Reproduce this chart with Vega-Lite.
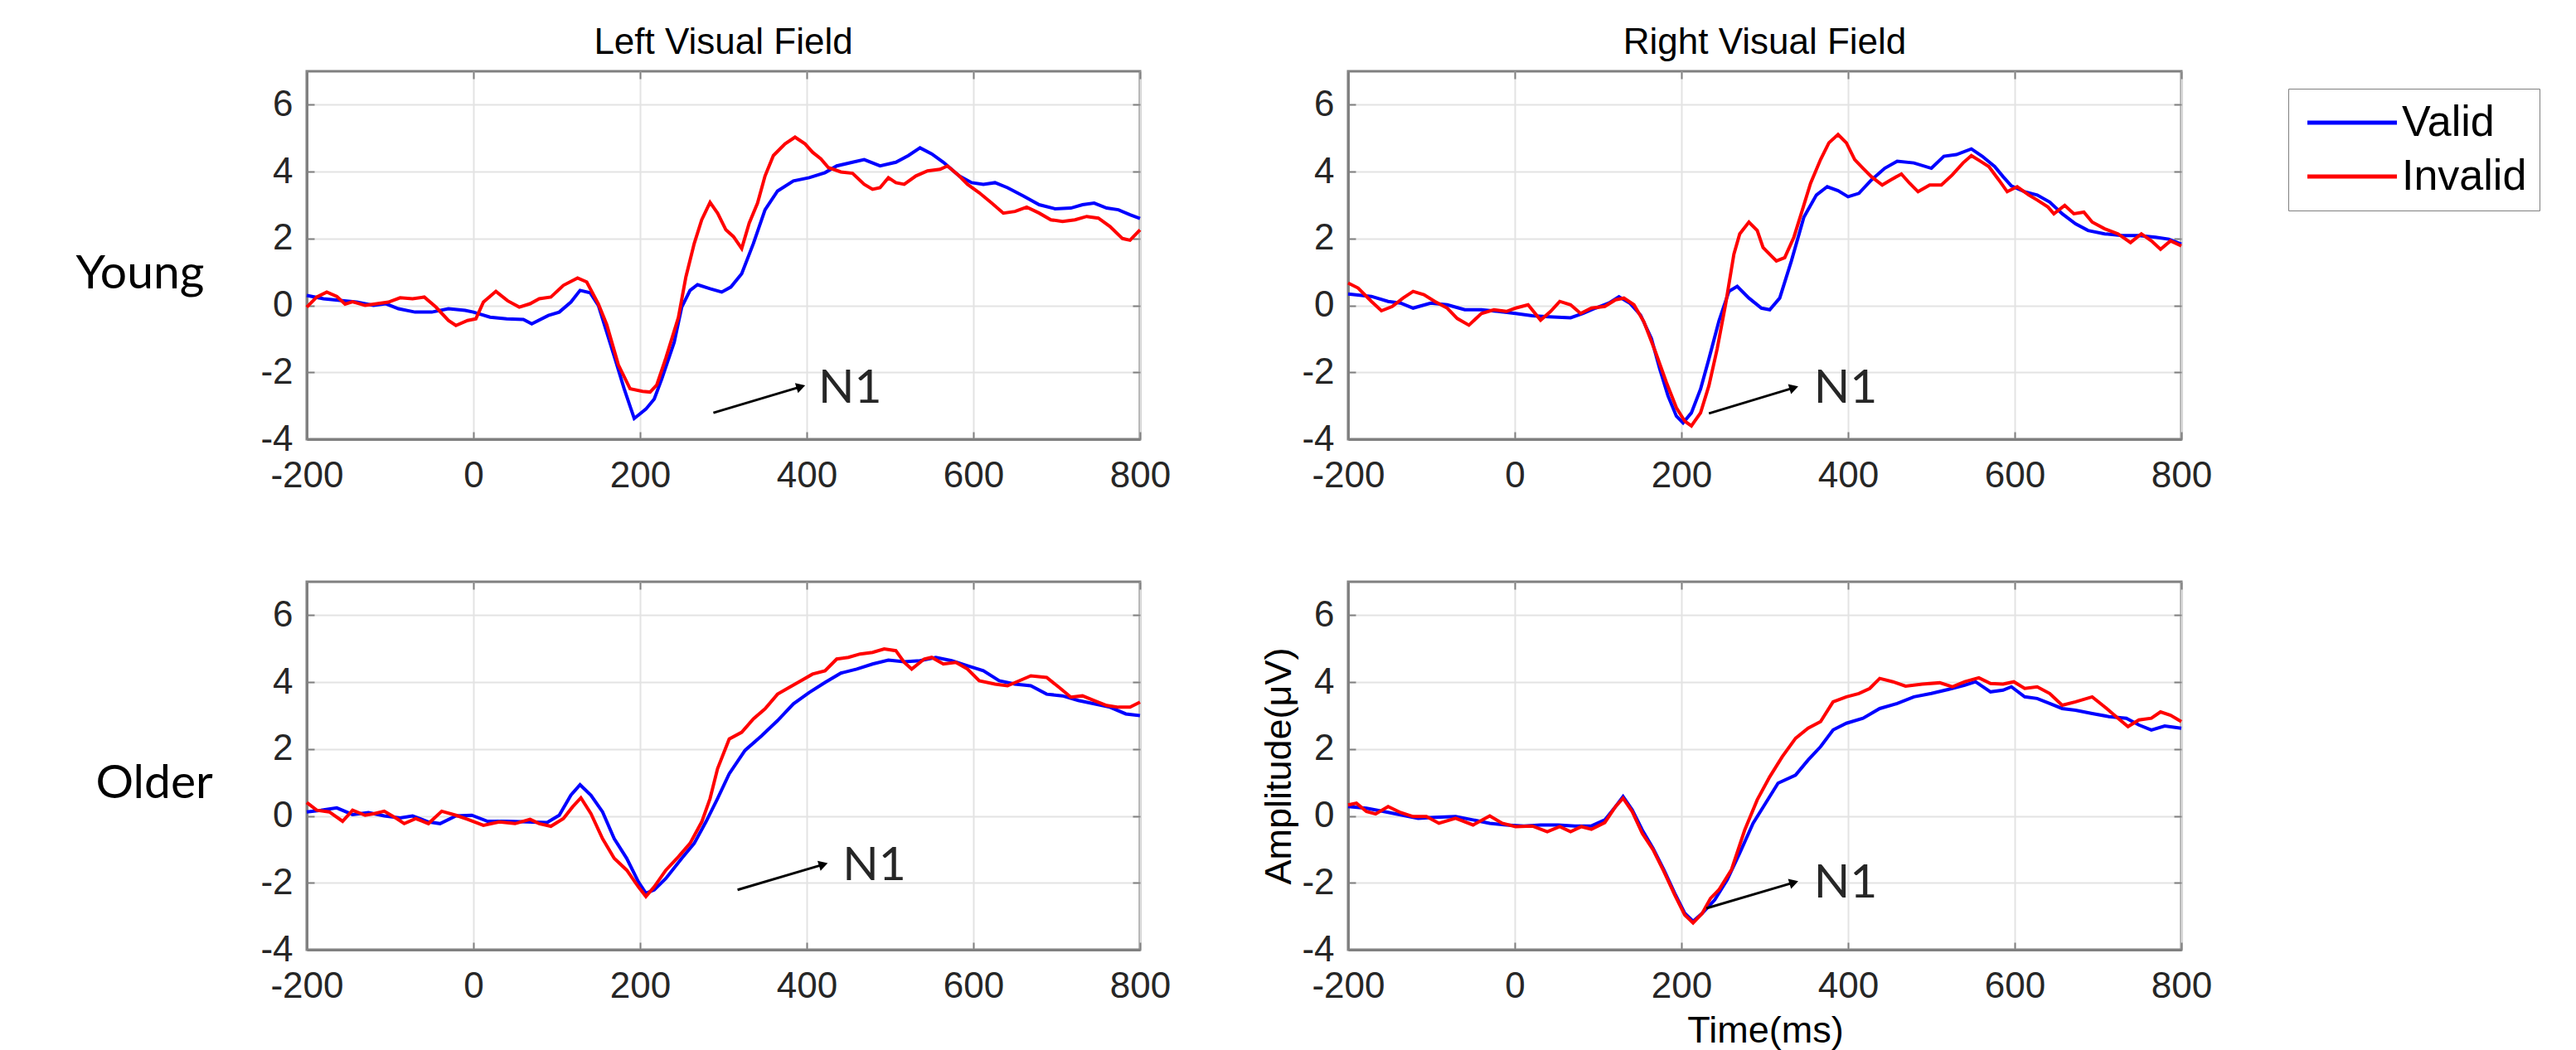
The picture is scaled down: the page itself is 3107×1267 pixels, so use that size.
{
"$schema":"https://vega.github.io/schema/vega-lite/v6.json",
"autosize":{"type":"none"},
"padding":{"left":370,"top":86,"right":2737,"bottom":1181},
"background":"#ffffff",
"config":{
 "font":"Liberation Sans",
 "view":{"stroke":"#808080","strokeWidth":3},
 "axis":{"labelFont":"Liberation Sans","labelFontSize":44,"labelColor":"#262626","labelFlush":false,"labelOverlap":false,"domainColor":"#808080","domainWidth":3,"tickColor":"#808080","tickWidth":2,"tickSize":-9,"gridColor":"#e3e3e3","gridWidth":2,"titleFont":"Liberation Sans","titleFontWeight":"normal","titleColor":"#000000","titleFontSize":45},
 "axisX":{"labelPadding":31},
 "axisY":{"labelPadding":26},
 "title":{"font":"Liberation Sans","fontSize":44,"fontWeight":"normal","color":"#000000"}
},
"datasets":{
"ann":[
 {"p":"YL","t":288,"v":-3.21,"t2":393,"v2":-2.43,"tx":414,"vy":-2.49,"label":"N1"},
 {"p":"YR","t":233,"v":-3.23,"t2":335,"v2":-2.46,"tx":359,"vy":-2.5,"label":"N1"},
 {"p":"OL","t":317,"v":-2.21,"t2":420,"v2":-1.45,"tx":443,"vy":-1.49,"label":"N1"},
 {"p":"OR","t":230,"v":-2.76,"t2":335,"v2":-1.99,"tx":359,"vy":-2.03,"label":"N1"}
],
"erp":[
{"p":"YL","c":"Valid","t":-200,"v":0.3},{"p":"YL","c":"Valid","t":-180,"v":0.2},{"p":"YL","c":"Valid","t":-160,"v":0.15},{"p":"YL","c":"Valid","t":-140,"v":0.1},{"p":"YL","c":"Valid","t":-120,"v":0.0},{"p":"YL","c":"Valid","t":-105,"v":0.05},{"p":"YL","c":"Valid","t":-90,"v":-0.1},{"p":"YL","c":"Valid","t":-70,"v":-0.2},{"p":"YL","c":"Valid","t":-50,"v":-0.2},{"p":"YL","c":"Valid","t":-30,"v":-0.1},{"p":"YL","c":"Valid","t":-10,"v":-0.15},{"p":"YL","c":"Valid","t":0,"v":-0.2},{"p":"YL","c":"Valid","t":20,"v":-0.35},{"p":"YL","c":"Valid","t":40,"v":-0.4},{"p":"YL","c":"Valid","t":60,"v":-0.42},{"p":"YL","c":"Valid","t":70,"v":-0.55},{"p":"YL","c":"Valid","t":90,"v":-0.3},{"p":"YL","c":"Valid","t":103,"v":-0.2},{"p":"YL","c":"Valid","t":117,"v":0.1},{"p":"YL","c":"Valid","t":128,"v":0.45},{"p":"YL","c":"Valid","t":140,"v":0.38},{"p":"YL","c":"Valid","t":150,"v":0.0},{"p":"YL","c":"Valid","t":160,"v":-0.8},{"p":"YL","c":"Valid","t":170,"v":-1.6},{"p":"YL","c":"Valid","t":181,"v":-2.5},{"p":"YL","c":"Valid","t":193,"v":-3.38},{"p":"YL","c":"Valid","t":207,"v":-3.1},{"p":"YL","c":"Valid","t":217,"v":-2.8},{"p":"YL","c":"Valid","t":226,"v":-2.2},{"p":"YL","c":"Valid","t":241,"v":-1.1},{"p":"YL","c":"Valid","t":250,"v":-0.05},{"p":"YL","c":"Valid","t":260,"v":0.45},{"p":"YL","c":"Valid","t":269,"v":0.62},{"p":"YL","c":"Valid","t":284,"v":0.5},{"p":"YL","c":"Valid","t":298,"v":0.4},{"p":"YL","c":"Valid","t":309,"v":0.55},{"p":"YL","c":"Valid","t":322,"v":0.95},{"p":"YL","c":"Valid","t":336,"v":1.85},{"p":"YL","c":"Valid","t":350,"v":2.86},{"p":"YL","c":"Valid","t":365,"v":3.42},{"p":"YL","c":"Valid","t":384,"v":3.72},{"p":"YL","c":"Valid","t":403,"v":3.82},{"p":"YL","c":"Valid","t":422,"v":3.97},{"p":"YL","c":"Valid","t":436,"v":4.17},{"p":"YL","c":"Valid","t":455,"v":4.28},{"p":"YL","c":"Valid","t":469,"v":4.36},{"p":"YL","c":"Valid","t":488,"v":4.17},{"p":"YL","c":"Valid","t":507,"v":4.28},{"p":"YL","c":"Valid","t":522,"v":4.48},{"p":"YL","c":"Valid","t":536,"v":4.71},{"p":"YL","c":"Valid","t":550,"v":4.53},{"p":"YL","c":"Valid","t":564,"v":4.28},{"p":"YL","c":"Valid","t":583,"v":3.87},{"p":"YL","c":"Valid","t":598,"v":3.67},{"p":"YL","c":"Valid","t":612,"v":3.62},{"p":"YL","c":"Valid","t":626,"v":3.67},{"p":"YL","c":"Valid","t":641,"v":3.52},{"p":"YL","c":"Valid","t":660,"v":3.27},{"p":"YL","c":"Valid","t":679,"v":3.01},{"p":"YL","c":"Valid","t":698,"v":2.89},{"p":"YL","c":"Valid","t":717,"v":2.91},{"p":"YL","c":"Valid","t":731,"v":3.01},{"p":"YL","c":"Valid","t":745,"v":3.06},{"p":"YL","c":"Valid","t":760,"v":2.91},{"p":"YL","c":"Valid","t":774,"v":2.86},{"p":"YL","c":"Valid","t":788,"v":2.71},{"p":"YL","c":"Valid","t":800,"v":2.6},
{"p":"YL","c":"Invalid","t":-200,"v":-0.05},{"p":"YL","c":"Invalid","t":-188,"v":0.25},{"p":"YL","c":"Invalid","t":-176,"v":0.4},{"p":"YL","c":"Invalid","t":-164,"v":0.27},{"p":"YL","c":"Invalid","t":-154,"v":0.04},{"p":"YL","c":"Invalid","t":-145,"v":0.11},{"p":"YL","c":"Invalid","t":-130,"v":0.0},{"p":"YL","c":"Invalid","t":-116,"v":0.05},{"p":"YL","c":"Invalid","t":-102,"v":0.1},{"p":"YL","c":"Invalid","t":-88,"v":0.23},{"p":"YL","c":"Invalid","t":-73,"v":0.2},{"p":"YL","c":"Invalid","t":-59,"v":0.25},{"p":"YL","c":"Invalid","t":-45,"v":-0.05},{"p":"YL","c":"Invalid","t":-30,"v":-0.45},{"p":"YL","c":"Invalid","t":-21,"v":-0.6},{"p":"YL","c":"Invalid","t":-7,"v":-0.45},{"p":"YL","c":"Invalid","t":3,"v":-0.4},{"p":"YL","c":"Invalid","t":12,"v":0.1},{"p":"YL","c":"Invalid","t":27,"v":0.42},{"p":"YL","c":"Invalid","t":41,"v":0.14},{"p":"YL","c":"Invalid","t":55,"v":-0.05},{"p":"YL","c":"Invalid","t":68,"v":0.05},{"p":"YL","c":"Invalid","t":79,"v":0.2},{"p":"YL","c":"Invalid","t":93,"v":0.25},{"p":"YL","c":"Invalid","t":108,"v":0.6},{"p":"YL","c":"Invalid","t":125,"v":0.82},{"p":"YL","c":"Invalid","t":136,"v":0.7},{"p":"YL","c":"Invalid","t":150,"v":0.04},{"p":"YL","c":"Invalid","t":160,"v":-0.57},{"p":"YL","c":"Invalid","t":174,"v":-1.78},{"p":"YL","c":"Invalid","t":188,"v":-2.49},{"p":"YL","c":"Invalid","t":203,"v":-2.57},{"p":"YL","c":"Invalid","t":212,"v":-2.59},{"p":"YL","c":"Invalid","t":220,"v":-2.38},{"p":"YL","c":"Invalid","t":231,"v":-1.57},{"p":"YL","c":"Invalid","t":246,"v":-0.36},{"p":"YL","c":"Invalid","t":255,"v":0.85},{"p":"YL","c":"Invalid","t":265,"v":1.85},{"p":"YL","c":"Invalid","t":274,"v":2.56},{"p":"YL","c":"Invalid","t":284,"v":3.08},{"p":"YL","c":"Invalid","t":293,"v":2.76},{"p":"YL","c":"Invalid","t":303,"v":2.26},{"p":"YL","c":"Invalid","t":312,"v":2.06},{"p":"YL","c":"Invalid","t":322,"v":1.7},{"p":"YL","c":"Invalid","t":331,"v":2.46},{"p":"YL","c":"Invalid","t":341,"v":3.06},{"p":"YL","c":"Invalid","t":350,"v":3.87},{"p":"YL","c":"Invalid","t":360,"v":4.48},{"p":"YL","c":"Invalid","t":374,"v":4.83},{"p":"YL","c":"Invalid","t":386,"v":5.03},{"p":"YL","c":"Invalid","t":398,"v":4.83},{"p":"YL","c":"Invalid","t":407,"v":4.58},{"p":"YL","c":"Invalid","t":417,"v":4.38},{"p":"YL","c":"Invalid","t":426,"v":4.12},{"p":"YL","c":"Invalid","t":441,"v":3.99},{"p":"YL","c":"Invalid","t":455,"v":3.95},{"p":"YL","c":"Invalid","t":469,"v":3.62},{"p":"YL","c":"Invalid","t":479,"v":3.47},{"p":"YL","c":"Invalid","t":488,"v":3.52},{"p":"YL","c":"Invalid","t":498,"v":3.82},{"p":"YL","c":"Invalid","t":507,"v":3.67},{"p":"YL","c":"Invalid","t":517,"v":3.62},{"p":"YL","c":"Invalid","t":531,"v":3.87},{"p":"YL","c":"Invalid","t":545,"v":4.02},{"p":"YL","c":"Invalid","t":560,"v":4.07},{"p":"YL","c":"Invalid","t":569,"v":4.17},{"p":"YL","c":"Invalid","t":583,"v":3.87},{"p":"YL","c":"Invalid","t":593,"v":3.62},{"p":"YL","c":"Invalid","t":607,"v":3.37},{"p":"YL","c":"Invalid","t":622,"v":3.06},{"p":"YL","c":"Invalid","t":636,"v":2.76},{"p":"YL","c":"Invalid","t":650,"v":2.81},{"p":"YL","c":"Invalid","t":664,"v":2.94},{"p":"YL","c":"Invalid","t":679,"v":2.76},{"p":"YL","c":"Invalid","t":693,"v":2.56},{"p":"YL","c":"Invalid","t":707,"v":2.51},{"p":"YL","c":"Invalid","t":722,"v":2.56},{"p":"YL","c":"Invalid","t":736,"v":2.66},{"p":"YL","c":"Invalid","t":750,"v":2.61},{"p":"YL","c":"Invalid","t":764,"v":2.36},{"p":"YL","c":"Invalid","t":779,"v":2.0},{"p":"YL","c":"Invalid","t":788,"v":1.95},{"p":"YL","c":"Invalid","t":800,"v":2.26},
{"p":"YR","c":"Valid","t":-200,"v":0.34},{"p":"YR","c":"Valid","t":-172,"v":0.27},{"p":"YR","c":"Valid","t":-152,"v":0.12},{"p":"YR","c":"Valid","t":-137,"v":0.07},{"p":"YR","c":"Valid","t":-122,"v":-0.08},{"p":"YR","c":"Valid","t":-101,"v":0.07},{"p":"YR","c":"Valid","t":-81,"v":0.02},{"p":"YR","c":"Valid","t":-60,"v":-0.13},{"p":"YR","c":"Valid","t":-40,"v":-0.13},{"p":"YR","c":"Valid","t":-20,"v":-0.18},{"p":"YR","c":"Valid","t":1,"v":-0.24},{"p":"YR","c":"Valid","t":21,"v":-0.31},{"p":"YR","c":"Valid","t":41,"v":-0.34},{"p":"YR","c":"Valid","t":67,"v":-0.37},{"p":"YR","c":"Valid","t":82,"v":-0.24},{"p":"YR","c":"Valid","t":97,"v":-0.08},{"p":"YR","c":"Valid","t":113,"v":0.07},{"p":"YR","c":"Valid","t":125,"v":0.26},{"p":"YR","c":"Valid","t":138,"v":0.07},{"p":"YR","c":"Valid","t":151,"v":-0.29},{"p":"YR","c":"Valid","t":164,"v":-0.99},{"p":"YR","c":"Valid","t":174,"v":-1.9},{"p":"YR","c":"Valid","t":184,"v":-2.71},{"p":"YR","c":"Valid","t":194,"v":-3.31},{"p":"YR","c":"Valid","t":202,"v":-3.51},{"p":"YR","c":"Valid","t":212,"v":-3.21},{"p":"YR","c":"Valid","t":223,"v":-2.5},{"p":"YR","c":"Valid","t":233,"v":-1.6},{"p":"YR","c":"Valid","t":245,"v":-0.47},{"p":"YR","c":"Valid","t":257,"v":0.42},{"p":"YR","c":"Valid","t":267,"v":0.57},{"p":"YR","c":"Valid","t":281,"v":0.22},{"p":"YR","c":"Valid","t":296,"v":-0.08},{"p":"YR","c":"Valid","t":306,"v":-0.13},{"p":"YR","c":"Valid","t":318,"v":0.22},{"p":"YR","c":"Valid","t":332,"v":1.33},{"p":"YR","c":"Valid","t":347,"v":2.64},{"p":"YR","c":"Valid","t":362,"v":3.3},{"p":"YR","c":"Valid","t":375,"v":3.55},{"p":"YR","c":"Valid","t":388,"v":3.43},{"p":"YR","c":"Valid","t":400,"v":3.25},{"p":"YR","c":"Valid","t":413,"v":3.35},{"p":"YR","c":"Valid","t":428,"v":3.75},{"p":"YR","c":"Valid","t":444,"v":4.1},{"p":"YR","c":"Valid","t":459,"v":4.31},{"p":"YR","c":"Valid","t":479,"v":4.26},{"p":"YR","c":"Valid","t":500,"v":4.1},{"p":"YR","c":"Valid","t":515,"v":4.46},{"p":"YR","c":"Valid","t":530,"v":4.51},{"p":"YR","c":"Valid","t":548,"v":4.68},{"p":"YR","c":"Valid","t":561,"v":4.46},{"p":"YR","c":"Valid","t":576,"v":4.15},{"p":"YR","c":"Valid","t":586,"v":3.85},{"p":"YR","c":"Valid","t":596,"v":3.57},{"p":"YR","c":"Valid","t":612,"v":3.4},{"p":"YR","c":"Valid","t":627,"v":3.3},{"p":"YR","c":"Valid","t":642,"v":3.09},{"p":"YR","c":"Valid","t":657,"v":2.74},{"p":"YR","c":"Valid","t":673,"v":2.44},{"p":"YR","c":"Valid","t":688,"v":2.24},{"p":"YR","c":"Valid","t":708,"v":2.14},{"p":"YR","c":"Valid","t":729,"v":2.09},{"p":"YR","c":"Valid","t":749,"v":2.09},{"p":"YR","c":"Valid","t":769,"v":2.04},{"p":"YR","c":"Valid","t":785,"v":1.98},{"p":"YR","c":"Valid","t":800,"v":1.83},
{"p":"YR","c":"Invalid","t":-200,"v":0.67},{"p":"YR","c":"Invalid","t":-188,"v":0.52},{"p":"YR","c":"Invalid","t":-172,"v":0.12},{"p":"YR","c":"Invalid","t":-160,"v":-0.16},{"p":"YR","c":"Invalid","t":-147,"v":-0.03},{"p":"YR","c":"Invalid","t":-134,"v":0.22},{"p":"YR","c":"Invalid","t":-122,"v":0.42},{"p":"YR","c":"Invalid","t":-109,"v":0.32},{"p":"YR","c":"Invalid","t":-96,"v":0.12},{"p":"YR","c":"Invalid","t":-81,"v":-0.08},{"p":"YR","c":"Invalid","t":-69,"v":-0.39},{"p":"YR","c":"Invalid","t":-55,"v":-0.59},{"p":"YR","c":"Invalid","t":-40,"v":-0.24},{"p":"YR","c":"Invalid","t":-25,"v":-0.13},{"p":"YR","c":"Invalid","t":-10,"v":-0.18},{"p":"YR","c":"Invalid","t":1,"v":-0.08},{"p":"YR","c":"Invalid","t":16,"v":0.02},{"p":"YR","c":"Invalid","t":31,"v":-0.44},{"p":"YR","c":"Invalid","t":43,"v":-0.18},{"p":"YR","c":"Invalid","t":54,"v":0.12},{"p":"YR","c":"Invalid","t":67,"v":0.02},{"p":"YR","c":"Invalid","t":79,"v":-0.24},{"p":"YR","c":"Invalid","t":92,"v":-0.08},{"p":"YR","c":"Invalid","t":108,"v":-0.03},{"p":"YR","c":"Invalid","t":121,"v":0.17},{"p":"YR","c":"Invalid","t":131,"v":0.22},{"p":"YR","c":"Invalid","t":143,"v":0.02},{"p":"YR","c":"Invalid","t":155,"v":-0.49},{"p":"YR","c":"Invalid","t":169,"v":-1.4},{"p":"YR","c":"Invalid","t":182,"v":-2.3},{"p":"YR","c":"Invalid","t":194,"v":-3.06},{"p":"YR","c":"Invalid","t":204,"v":-3.46},{"p":"YR","c":"Invalid","t":212,"v":-3.6},{"p":"YR","c":"Invalid","t":223,"v":-3.21},{"p":"YR","c":"Invalid","t":233,"v":-2.4},{"p":"YR","c":"Invalid","t":243,"v":-1.29},{"p":"YR","c":"Invalid","t":253,"v":0.03},{"p":"YR","c":"Invalid","t":263,"v":1.53},{"p":"YR","c":"Invalid","t":270,"v":2.14},{"p":"YR","c":"Invalid","t":281,"v":2.49},{"p":"YR","c":"Invalid","t":291,"v":2.24},{"p":"YR","c":"Invalid","t":298,"v":1.73},{"p":"YR","c":"Invalid","t":306,"v":1.53},{"p":"YR","c":"Invalid","t":314,"v":1.33},{"p":"YR","c":"Invalid","t":324,"v":1.43},{"p":"YR","c":"Invalid","t":335,"v":2.04},{"p":"YR","c":"Invalid","t":345,"v":2.84},{"p":"YR","c":"Invalid","t":355,"v":3.65},{"p":"YR","c":"Invalid","t":367,"v":4.36},{"p":"YR","c":"Invalid","t":377,"v":4.86},{"p":"YR","c":"Invalid","t":388,"v":5.11},{"p":"YR","c":"Invalid","t":398,"v":4.86},{"p":"YR","c":"Invalid","t":408,"v":4.36},{"p":"YR","c":"Invalid","t":418,"v":4.1},{"p":"YR","c":"Invalid","t":428,"v":3.85},{"p":"YR","c":"Invalid","t":441,"v":3.6},{"p":"YR","c":"Invalid","t":451,"v":3.75},{"p":"YR","c":"Invalid","t":464,"v":3.93},{"p":"YR","c":"Invalid","t":474,"v":3.65},{"p":"YR","c":"Invalid","t":484,"v":3.4},{"p":"YR","c":"Invalid","t":498,"v":3.6},{"p":"YR","c":"Invalid","t":512,"v":3.6},{"p":"YR","c":"Invalid","t":525,"v":3.9},{"p":"YR","c":"Invalid","t":538,"v":4.26},{"p":"YR","c":"Invalid","t":548,"v":4.48},{"p":"YR","c":"Invalid","t":559,"v":4.31},{"p":"YR","c":"Invalid","t":569,"v":4.15},{"p":"YR","c":"Invalid","t":581,"v":3.75},{"p":"YR","c":"Invalid","t":591,"v":3.4},{"p":"YR","c":"Invalid","t":603,"v":3.55},{"p":"YR","c":"Invalid","t":617,"v":3.3},{"p":"YR","c":"Invalid","t":627,"v":3.15},{"p":"YR","c":"Invalid","t":640,"v":2.94},{"p":"YR","c":"Invalid","t":647,"v":2.74},{"p":"YR","c":"Invalid","t":660,"v":2.99},{"p":"YR","c":"Invalid","t":671,"v":2.74},{"p":"YR","c":"Invalid","t":683,"v":2.79},{"p":"YR","c":"Invalid","t":693,"v":2.49},{"p":"YR","c":"Invalid","t":708,"v":2.29},{"p":"YR","c":"Invalid","t":724,"v":2.14},{"p":"YR","c":"Invalid","t":739,"v":1.88},{"p":"YR","c":"Invalid","t":752,"v":2.14},{"p":"YR","c":"Invalid","t":764,"v":1.93},{"p":"YR","c":"Invalid","t":775,"v":1.68},{"p":"YR","c":"Invalid","t":787,"v":1.93},{"p":"YR","c":"Invalid","t":800,"v":1.78},
{"p":"OL","c":"Valid","t":-200,"v":0.12},{"p":"OL","c":"Valid","t":-183,"v":0.17},{"p":"OL","c":"Valid","t":-164,"v":0.24},{"p":"OL","c":"Valid","t":-145,"v":0.04},{"p":"OL","c":"Valid","t":-126,"v":0.1},{"p":"OL","c":"Valid","t":-107,"v":0.0},{"p":"OL","c":"Valid","t":-88,"v":-0.06},{"p":"OL","c":"Valid","t":-73,"v":0.0},{"p":"OL","c":"Valid","t":-54,"v":-0.18},{"p":"OL","c":"Valid","t":-40,"v":-0.23},{"p":"OL","c":"Valid","t":-21,"v":0.0},{"p":"OL","c":"Valid","t":-2,"v":0.02},{"p":"OL","c":"Valid","t":17,"v":-0.16},{"p":"OL","c":"Valid","t":41,"v":-0.16},{"p":"OL","c":"Valid","t":65,"v":-0.18},{"p":"OL","c":"Valid","t":88,"v":-0.2},{"p":"OL","c":"Valid","t":103,"v":0.02},{"p":"OL","c":"Valid","t":117,"v":0.62},{"p":"OL","c":"Valid","t":128,"v":0.93},{"p":"OL","c":"Valid","t":141,"v":0.62},{"p":"OL","c":"Valid","t":155,"v":0.12},{"p":"OL","c":"Valid","t":169,"v":-0.68},{"p":"OL","c":"Valid","t":184,"v":-1.27},{"p":"OL","c":"Valid","t":198,"v":-1.97},{"p":"OL","c":"Valid","t":207,"v":-2.31},{"p":"OL","c":"Valid","t":217,"v":-2.21},{"p":"OL","c":"Valid","t":231,"v":-1.87},{"p":"OL","c":"Valid","t":250,"v":-1.27},{"p":"OL","c":"Valid","t":265,"v":-0.82},{"p":"OL","c":"Valid","t":279,"v":-0.18},{"p":"OL","c":"Valid","t":293,"v":0.52},{"p":"OL","c":"Valid","t":307,"v":1.26},{"p":"OL","c":"Valid","t":326,"v":1.96},{"p":"OL","c":"Valid","t":346,"v":2.4},{"p":"OL","c":"Valid","t":365,"v":2.85},{"p":"OL","c":"Valid","t":384,"v":3.35},{"p":"OL","c":"Valid","t":403,"v":3.69},{"p":"OL","c":"Valid","t":422,"v":3.99},{"p":"OL","c":"Valid","t":441,"v":4.27},{"p":"OL","c":"Valid","t":460,"v":4.39},{"p":"OL","c":"Valid","t":479,"v":4.54},{"p":"OL","c":"Valid","t":498,"v":4.66},{"p":"OL","c":"Valid","t":517,"v":4.61},{"p":"OL","c":"Valid","t":536,"v":4.64},{"p":"OL","c":"Valid","t":555,"v":4.74},{"p":"OL","c":"Valid","t":574,"v":4.64},{"p":"OL","c":"Valid","t":593,"v":4.49},{"p":"OL","c":"Valid","t":612,"v":4.34},{"p":"OL","c":"Valid","t":631,"v":4.04},{"p":"OL","c":"Valid","t":650,"v":3.94},{"p":"OL","c":"Valid","t":669,"v":3.89},{"p":"OL","c":"Valid","t":688,"v":3.64},{"p":"OL","c":"Valid","t":707,"v":3.59},{"p":"OL","c":"Valid","t":726,"v":3.45},{"p":"OL","c":"Valid","t":745,"v":3.35},{"p":"OL","c":"Valid","t":764,"v":3.25},{"p":"OL","c":"Valid","t":783,"v":3.05},{"p":"OL","c":"Valid","t":800,"v":3.0},
{"p":"OL","c":"Invalid","t":-200,"v":0.4},{"p":"OL","c":"Invalid","t":-188,"v":0.17},{"p":"OL","c":"Invalid","t":-173,"v":0.12},{"p":"OL","c":"Invalid","t":-157,"v":-0.16},{"p":"OL","c":"Invalid","t":-145,"v":0.17},{"p":"OL","c":"Invalid","t":-130,"v":0.02},{"p":"OL","c":"Invalid","t":-119,"v":0.07},{"p":"OL","c":"Invalid","t":-107,"v":0.14},{"p":"OL","c":"Invalid","t":-92,"v":-0.08},{"p":"OL","c":"Invalid","t":-83,"v":-0.23},{"p":"OL","c":"Invalid","t":-69,"v":-0.08},{"p":"OL","c":"Invalid","t":-54,"v":-0.23},{"p":"OL","c":"Invalid","t":-38,"v":0.14},{"p":"OL","c":"Invalid","t":-21,"v":0.02},{"p":"OL","c":"Invalid","t":-7,"v":-0.1},{"p":"OL","c":"Invalid","t":12,"v":-0.28},{"p":"OL","c":"Invalid","t":31,"v":-0.18},{"p":"OL","c":"Invalid","t":50,"v":-0.23},{"p":"OL","c":"Invalid","t":68,"v":-0.1},{"p":"OL","c":"Invalid","t":79,"v":-0.23},{"p":"OL","c":"Invalid","t":93,"v":-0.31},{"p":"OL","c":"Invalid","t":108,"v":-0.08},{"p":"OL","c":"Invalid","t":119,"v":0.27},{"p":"OL","c":"Invalid","t":129,"v":0.54},{"p":"OL","c":"Invalid","t":141,"v":0.07},{"p":"OL","c":"Invalid","t":155,"v":-0.68},{"p":"OL","c":"Invalid","t":169,"v":-1.27},{"p":"OL","c":"Invalid","t":184,"v":-1.62},{"p":"OL","c":"Invalid","t":198,"v":-2.12},{"p":"OL","c":"Invalid","t":207,"v":-2.41},{"p":"OL","c":"Invalid","t":217,"v":-2.12},{"p":"OL","c":"Invalid","t":231,"v":-1.62},{"p":"OL","c":"Invalid","t":246,"v":-1.22},{"p":"OL","c":"Invalid","t":260,"v":-0.82},{"p":"OL","c":"Invalid","t":274,"v":-0.18},{"p":"OL","c":"Invalid","t":284,"v":0.52},{"p":"OL","c":"Invalid","t":293,"v":1.41},{"p":"OL","c":"Invalid","t":307,"v":2.3},{"p":"OL","c":"Invalid","t":322,"v":2.5},{"p":"OL","c":"Invalid","t":336,"v":2.9},{"p":"OL","c":"Invalid","t":350,"v":3.2},{"p":"OL","c":"Invalid","t":365,"v":3.64},{"p":"OL","c":"Invalid","t":379,"v":3.84},{"p":"OL","c":"Invalid","t":393,"v":4.04},{"p":"OL","c":"Invalid","t":407,"v":4.24},{"p":"OL","c":"Invalid","t":422,"v":4.34},{"p":"OL","c":"Invalid","t":436,"v":4.69},{"p":"OL","c":"Invalid","t":450,"v":4.74},{"p":"OL","c":"Invalid","t":464,"v":4.84},{"p":"OL","c":"Invalid","t":479,"v":4.89},{"p":"OL","c":"Invalid","t":493,"v":4.99},{"p":"OL","c":"Invalid","t":507,"v":4.94},{"p":"OL","c":"Invalid","t":517,"v":4.59},{"p":"OL","c":"Invalid","t":526,"v":4.39},{"p":"OL","c":"Invalid","t":541,"v":4.69},{"p":"OL","c":"Invalid","t":550,"v":4.74},{"p":"OL","c":"Invalid","t":564,"v":4.54},{"p":"OL","c":"Invalid","t":579,"v":4.59},{"p":"OL","c":"Invalid","t":593,"v":4.39},{"p":"OL","c":"Invalid","t":607,"v":4.04},{"p":"OL","c":"Invalid","t":626,"v":3.94},{"p":"OL","c":"Invalid","t":641,"v":3.89},{"p":"OL","c":"Invalid","t":655,"v":4.04},{"p":"OL","c":"Invalid","t":669,"v":4.19},{"p":"OL","c":"Invalid","t":688,"v":4.14},{"p":"OL","c":"Invalid","t":703,"v":3.84},{"p":"OL","c":"Invalid","t":717,"v":3.55},{"p":"OL","c":"Invalid","t":731,"v":3.59},{"p":"OL","c":"Invalid","t":745,"v":3.45},{"p":"OL","c":"Invalid","t":760,"v":3.3},{"p":"OL","c":"Invalid","t":774,"v":3.25},{"p":"OL","c":"Invalid","t":788,"v":3.25},{"p":"OL","c":"Invalid","t":800,"v":3.4},
{"p":"OR","c":"Valid","t":-200,"v":0.28},{"p":"OR","c":"Valid","t":-178,"v":0.23},{"p":"OR","c":"Valid","t":-157,"v":0.13},{"p":"OR","c":"Valid","t":-137,"v":0.03},{"p":"OR","c":"Valid","t":-116,"v":-0.07},{"p":"OR","c":"Valid","t":-96,"v":-0.04},{"p":"OR","c":"Valid","t":-71,"v":-0.02},{"p":"OR","c":"Valid","t":-50,"v":-0.12},{"p":"OR","c":"Valid","t":-30,"v":-0.22},{"p":"OR","c":"Valid","t":-10,"v":-0.27},{"p":"OR","c":"Valid","t":11,"v":-0.3},{"p":"OR","c":"Valid","t":31,"v":-0.27},{"p":"OR","c":"Valid","t":52,"v":-0.27},{"p":"OR","c":"Valid","t":72,"v":-0.3},{"p":"OR","c":"Valid","t":92,"v":-0.3},{"p":"OR","c":"Valid","t":108,"v":-0.12},{"p":"OR","c":"Valid","t":121,"v":0.28},{"p":"OR","c":"Valid","t":130,"v":0.58},{"p":"OR","c":"Valid","t":141,"v":0.18},{"p":"OR","c":"Valid","t":153,"v":-0.42},{"p":"OR","c":"Valid","t":166,"v":-0.97},{"p":"OR","c":"Valid","t":179,"v":-1.61},{"p":"OR","c":"Valid","t":192,"v":-2.31},{"p":"OR","c":"Valid","t":204,"v":-2.91},{"p":"OR","c":"Valid","t":214,"v":-3.15},{"p":"OR","c":"Valid","t":225,"v":-2.91},{"p":"OR","c":"Valid","t":240,"v":-2.51},{"p":"OR","c":"Valid","t":255,"v":-1.91},{"p":"OR","c":"Valid","t":270,"v":-1.11},{"p":"OR","c":"Valid","t":286,"v":-0.22},{"p":"OR","c":"Valid","t":301,"v":0.38},{"p":"OR","c":"Valid","t":316,"v":0.98},{"p":"OR","c":"Valid","t":337,"v":1.22},{"p":"OR","c":"Valid","t":352,"v":1.67},{"p":"OR","c":"Valid","t":367,"v":2.07},{"p":"OR","c":"Valid","t":382,"v":2.57},{"p":"OR","c":"Valid","t":398,"v":2.77},{"p":"OR","c":"Valid","t":418,"v":2.92},{"p":"OR","c":"Valid","t":438,"v":3.21},{"p":"OR","c":"Valid","t":459,"v":3.36},{"p":"OR","c":"Valid","t":479,"v":3.56},{"p":"OR","c":"Valid","t":500,"v":3.66},{"p":"OR","c":"Valid","t":520,"v":3.78},{"p":"OR","c":"Valid","t":540,"v":3.91},{"p":"OR","c":"Valid","t":553,"v":4.01},{"p":"OR","c":"Valid","t":571,"v":3.71},{"p":"OR","c":"Valid","t":586,"v":3.76},{"p":"OR","c":"Valid","t":596,"v":3.86},{"p":"OR","c":"Valid","t":612,"v":3.56},{"p":"OR","c":"Valid","t":627,"v":3.51},{"p":"OR","c":"Valid","t":642,"v":3.36},{"p":"OR","c":"Valid","t":657,"v":3.21},{"p":"OR","c":"Valid","t":673,"v":3.16},{"p":"OR","c":"Valid","t":693,"v":3.06},{"p":"OR","c":"Valid","t":713,"v":2.97},{"p":"OR","c":"Valid","t":734,"v":2.92},{"p":"OR","c":"Valid","t":749,"v":2.72},{"p":"OR","c":"Valid","t":764,"v":2.57},{"p":"OR","c":"Valid","t":780,"v":2.69},{"p":"OR","c":"Valid","t":800,"v":2.62},
{"p":"OR","c":"Invalid","t":-200,"v":0.33},{"p":"OR","c":"Invalid","t":-190,"v":0.38},{"p":"OR","c":"Invalid","t":-178,"v":0.13},{"p":"OR","c":"Invalid","t":-167,"v":0.06},{"p":"OR","c":"Invalid","t":-152,"v":0.28},{"p":"OR","c":"Invalid","t":-137,"v":0.1},{"p":"OR","c":"Invalid","t":-122,"v":-0.02},{"p":"OR","c":"Invalid","t":-106,"v":-0.02},{"p":"OR","c":"Invalid","t":-91,"v":-0.22},{"p":"OR","c":"Invalid","t":-71,"v":-0.07},{"p":"OR","c":"Invalid","t":-50,"v":-0.27},{"p":"OR","c":"Invalid","t":-30,"v":0.0},{"p":"OR","c":"Invalid","t":-15,"v":-0.22},{"p":"OR","c":"Invalid","t":1,"v":-0.32},{"p":"OR","c":"Invalid","t":21,"v":-0.3},{"p":"OR","c":"Invalid","t":39,"v":-0.47},{"p":"OR","c":"Invalid","t":54,"v":-0.32},{"p":"OR","c":"Invalid","t":67,"v":-0.47},{"p":"OR","c":"Invalid","t":80,"v":-0.32},{"p":"OR","c":"Invalid","t":92,"v":-0.4},{"p":"OR","c":"Invalid","t":108,"v":-0.2},{"p":"OR","c":"Invalid","t":121,"v":0.28},{"p":"OR","c":"Invalid","t":130,"v":0.53},{"p":"OR","c":"Invalid","t":141,"v":0.13},{"p":"OR","c":"Invalid","t":153,"v":-0.52},{"p":"OR","c":"Invalid","t":166,"v":-1.01},{"p":"OR","c":"Invalid","t":179,"v":-1.66},{"p":"OR","c":"Invalid","t":192,"v":-2.36},{"p":"OR","c":"Invalid","t":204,"v":-2.96},{"p":"OR","c":"Invalid","t":214,"v":-3.2},{"p":"OR","c":"Invalid","t":225,"v":-2.91},{"p":"OR","c":"Invalid","t":235,"v":-2.46},{"p":"OR","c":"Invalid","t":245,"v":-2.21},{"p":"OR","c":"Invalid","t":260,"v":-1.61},{"p":"OR","c":"Invalid","t":276,"v":-0.42},{"p":"OR","c":"Invalid","t":291,"v":0.48},{"p":"OR","c":"Invalid","t":306,"v":1.17},{"p":"OR","c":"Invalid","t":321,"v":1.77},{"p":"OR","c":"Invalid","t":337,"v":2.32},{"p":"OR","c":"Invalid","t":352,"v":2.62},{"p":"OR","c":"Invalid","t":367,"v":2.82},{"p":"OR","c":"Invalid","t":382,"v":3.41},{"p":"OR","c":"Invalid","t":398,"v":3.56},{"p":"OR","c":"Invalid","t":413,"v":3.66},{"p":"OR","c":"Invalid","t":426,"v":3.81},{"p":"OR","c":"Invalid","t":438,"v":4.11},{"p":"OR","c":"Invalid","t":454,"v":4.01},{"p":"OR","c":"Invalid","t":469,"v":3.88},{"p":"OR","c":"Invalid","t":489,"v":3.94},{"p":"OR","c":"Invalid","t":510,"v":3.98},{"p":"OR","c":"Invalid","t":525,"v":3.86},{"p":"OR","c":"Invalid","t":540,"v":4.01},{"p":"OR","c":"Invalid","t":557,"v":4.13},{"p":"OR","c":"Invalid","t":571,"v":3.96},{"p":"OR","c":"Invalid","t":586,"v":3.94},{"p":"OR","c":"Invalid","t":599,"v":4.01},{"p":"OR","c":"Invalid","t":612,"v":3.81},{"p":"OR","c":"Invalid","t":627,"v":3.86},{"p":"OR","c":"Invalid","t":642,"v":3.66},{"p":"OR","c":"Invalid","t":657,"v":3.31},{"p":"OR","c":"Invalid","t":673,"v":3.41},{"p":"OR","c":"Invalid","t":693,"v":3.56},{"p":"OR","c":"Invalid","t":708,"v":3.26},{"p":"OR","c":"Invalid","t":724,"v":2.92},{"p":"OR","c":"Invalid","t":736,"v":2.67},{"p":"OR","c":"Invalid","t":749,"v":2.87},{"p":"OR","c":"Invalid","t":764,"v":2.92},{"p":"OR","c":"Invalid","t":775,"v":3.11},{"p":"OR","c":"Invalid","t":787,"v":3.01},{"p":"OR","c":"Invalid","t":800,"v":2.82}
]},
"columns":2,
"bounds":"flush",
"spacing":{"row":172,"column":251},
"concat":[
{"width":1005,"height":444,
 "title":{"text":"Left Visual Field","anchor":"middle","offset":-24,"baseline":"alphabetic","frame":"group"},
 "resolve":{"axis":{"x":"independent","y":"independent"}},
 "layer":[
  {"data":{"name":"erp"},"transform":[{"filter":"datum.p==='YL' && datum.c==='Valid'"}],"mark":{"type":"line","strokeWidth":4},"encoding":{
   "x":{"field":"t","type":"quantitative","scale":{"domain":[-200,800],"nice":false,"zero":false},"axis":{"values":[-200,0,200,400,600,800],"labelExpr":"'' + datum.value","title":null}},
   "y":{"field":"v","type":"quantitative","scale":{"domain":[-4,7],"nice":false,"zero":false},"axis":{"values":[-4,-2,0,2,4,6],"labelExpr":"'' + datum.value","title":"Young","titleAngle":0,"titleAlign":"left","titleBaseline":"alphabetic","titleX":-279,"titleY":261,"titleFont":"Lato","titleFontSize":57}},
   "color":{"field":"c","type":"nominal","scale":{"domain":["Valid","Invalid"],"range":["#0000ff","#ff0000"]},"legend":{"title":null,"orient":"none","legendX":2390,"legendY":21,"symbolType":"M-1,0H5","symbolSize":1296,"symbolStrokeWidth":5,"labelFont":"Liberation Sans","labelFontSize":52,"labelColor":"#000000","labelOffset":70,"rowPadding":13,"padding":15,"strokeColor":"#808080","fillColor":"#ffffff","labelLimit":0}}}},
  {"data":{"name":"erp"},"transform":[{"filter":"datum.p==='YL' && datum.c==='Invalid'"}],"mark":{"type":"line","strokeWidth":4},"encoding":{
   "x":{"field":"t","type":"quantitative","scale":{"domain":[-200,800],"nice":false,"zero":false},"axis":null},
   "y":{"field":"v","type":"quantitative","scale":{"domain":[-4,7],"nice":false,"zero":false},"axis":null},
   "color":{"field":"c","type":"nominal"}}},
  {"data":{"name":"ann"},"transform":[{"filter":"datum.p==='YL'"}],"mark":{"type":"rule","color":"#000000","strokeWidth":3},"encoding":{
   "x":{"field":"t","type":"quantitative","scale":{"domain":[-200,800],"nice":false,"zero":false},"axis":{"orient":"top","values":[-200,0,200,400,600,800],"labels":false,"grid":false,"domain":false,"title":null}},
   "y":{"field":"v","type":"quantitative","scale":{"domain":[-4,7],"nice":false,"zero":false},"axis":{"orient":"right","values":[-4,-2,0,2,4,6],"labels":false,"grid":false,"domain":false,"title":null}},
   "x2":{"field":"t2"},"y2":{"field":"v2"}}},
  {"data":{"name":"ann"},"transform":[{"filter":"datum.p==='YL'"}],"mark":{"type":"point","shape":"triangle-right","filled":true,"size":160,"angle":-17,"color":"#000000","opacity":1},"encoding":{"x":{"field":"t2","type":"quantitative","axis":null},"y":{"field":"v2","type":"quantitative","axis":null}}},
  {"data":{"name":"ann"},"transform":[{"filter":"datum.p==='YL'"}],"mark":{"type":"text","align":"left","baseline":"middle","font":"Lato","fontSize":57,"color":"#262626"},"encoding":{"x":{"field":"tx","type":"quantitative","axis":null},"y":{"field":"vy","type":"quantitative","axis":null},"text":{"field":"label"}}}
 ]},
{"width":1005,"height":444,
 "title":{"text":"Right Visual Field","anchor":"middle","offset":-24,"baseline":"alphabetic","frame":"group"},
 "resolve":{"axis":{"x":"independent","y":"independent"}},
 "layer":[
  {"data":{"name":"erp"},"transform":[{"filter":"datum.p==='YR' && datum.c==='Valid'"}],"mark":{"type":"line","strokeWidth":4},"encoding":{
   "x":{"field":"t","type":"quantitative","scale":{"domain":[-200,800],"nice":false,"zero":false},"axis":{"values":[-200,0,200,400,600,800],"labelExpr":"'' + datum.value","title":null}},
   "y":{"field":"v","type":"quantitative","scale":{"domain":[-4,7],"nice":false,"zero":false},"axis":{"values":[-4,-2,0,2,4,6],"labelExpr":"'' + datum.value","title":null}},
   "color":{"field":"c","type":"nominal"}}},
  {"data":{"name":"erp"},"transform":[{"filter":"datum.p==='YR' && datum.c==='Invalid'"}],"mark":{"type":"line","strokeWidth":4},"encoding":{
   "x":{"field":"t","type":"quantitative","scale":{"domain":[-200,800],"nice":false,"zero":false},"axis":null},
   "y":{"field":"v","type":"quantitative","scale":{"domain":[-4,7],"nice":false,"zero":false},"axis":null},
   "color":{"field":"c","type":"nominal"}}},
  {"data":{"name":"ann"},"transform":[{"filter":"datum.p==='YR'"}],"mark":{"type":"rule","color":"#000000","strokeWidth":3},"encoding":{
   "x":{"field":"t","type":"quantitative","scale":{"domain":[-200,800],"nice":false,"zero":false},"axis":{"orient":"top","values":[-200,0,200,400,600,800],"labels":false,"grid":false,"domain":false,"title":null}},
   "y":{"field":"v","type":"quantitative","scale":{"domain":[-4,7],"nice":false,"zero":false},"axis":{"orient":"right","values":[-4,-2,0,2,4,6],"labels":false,"grid":false,"domain":false,"title":null}},
   "x2":{"field":"t2"},"y2":{"field":"v2"}}},
  {"data":{"name":"ann"},"transform":[{"filter":"datum.p==='YR'"}],"mark":{"type":"point","shape":"triangle-right","filled":true,"size":160,"angle":-17,"color":"#000000","opacity":1},"encoding":{"x":{"field":"t2","type":"quantitative","axis":null},"y":{"field":"v2","type":"quantitative","axis":null}}},
  {"data":{"name":"ann"},"transform":[{"filter":"datum.p==='YR'"}],"mark":{"type":"text","align":"left","baseline":"middle","font":"Lato","fontSize":57,"color":"#262626"},"encoding":{"x":{"field":"tx","type":"quantitative","axis":null},"y":{"field":"vy","type":"quantitative","axis":null},"text":{"field":"label"}}}
 ]},
{"width":1005,"height":444,
 "resolve":{"axis":{"x":"independent","y":"independent"}},
 "layer":[
  {"data":{"name":"erp"},"transform":[{"filter":"datum.p==='OL' && datum.c==='Valid'"}],"mark":{"type":"line","strokeWidth":4},"encoding":{
   "x":{"field":"t","type":"quantitative","scale":{"domain":[-200,800],"nice":false,"zero":false},"axis":{"values":[-200,0,200,400,600,800],"labelExpr":"'' + datum.value","title":null}},
   "y":{"field":"v","type":"quantitative","scale":{"domain":[-4,7],"nice":false,"zero":false},"axis":{"values":[-4,-2,0,2,4,6],"labelExpr":"'' + datum.value","title":"Older","titleAngle":0,"titleAlign":"left","titleBaseline":"alphabetic","titleX":-255,"titleY":260,"titleFont":"Lato","titleFontSize":57}},
   "color":{"field":"c","type":"nominal"}}},
  {"data":{"name":"erp"},"transform":[{"filter":"datum.p==='OL' && datum.c==='Invalid'"}],"mark":{"type":"line","strokeWidth":4},"encoding":{
   "x":{"field":"t","type":"quantitative","scale":{"domain":[-200,800],"nice":false,"zero":false},"axis":null},
   "y":{"field":"v","type":"quantitative","scale":{"domain":[-4,7],"nice":false,"zero":false},"axis":null},
   "color":{"field":"c","type":"nominal"}}},
  {"data":{"name":"ann"},"transform":[{"filter":"datum.p==='OL'"}],"mark":{"type":"rule","color":"#000000","strokeWidth":3},"encoding":{
   "x":{"field":"t","type":"quantitative","scale":{"domain":[-200,800],"nice":false,"zero":false},"axis":{"orient":"top","values":[-200,0,200,400,600,800],"labels":false,"grid":false,"domain":false,"title":null}},
   "y":{"field":"v","type":"quantitative","scale":{"domain":[-4,7],"nice":false,"zero":false},"axis":{"orient":"right","values":[-4,-2,0,2,4,6],"labels":false,"grid":false,"domain":false,"title":null}},
   "x2":{"field":"t2"},"y2":{"field":"v2"}}},
  {"data":{"name":"ann"},"transform":[{"filter":"datum.p==='OL'"}],"mark":{"type":"point","shape":"triangle-right","filled":true,"size":160,"angle":-17,"color":"#000000","opacity":1},"encoding":{"x":{"field":"t2","type":"quantitative","axis":null},"y":{"field":"v2","type":"quantitative","axis":null}}},
  {"data":{"name":"ann"},"transform":[{"filter":"datum.p==='OL'"}],"mark":{"type":"text","align":"left","baseline":"middle","font":"Lato","fontSize":57,"color":"#262626"},"encoding":{"x":{"field":"tx","type":"quantitative","axis":null},"y":{"field":"vy","type":"quantitative","axis":null},"text":{"field":"label"}}}
 ]},
{"width":1005,"height":444,
 "resolve":{"axis":{"x":"independent","y":"independent"}},
 "layer":[
  {"data":{"name":"erp"},"transform":[{"filter":"datum.p==='OR' && datum.c==='Valid'"}],"mark":{"type":"line","strokeWidth":4},"encoding":{
   "x":{"field":"t","type":"quantitative","scale":{"domain":[-200,800],"nice":false,"zero":false},"axis":{"values":[-200,0,200,400,600,800],"labelExpr":"'' + datum.value","title":"Time(ms)","titleBaseline":"alphabetic","titleX":503,"titleY":111}},
   "y":{"field":"v","type":"quantitative","scale":{"domain":[-4,7],"nice":false,"zero":false},"axis":{"values":[-4,-2,0,2,4,6],"labelExpr":"'' + datum.value","title":"Amplitude(μV)","titleAngle":-90,"titleBaseline":"alphabetic","titleX":-70,"titleY":222}},
   "color":{"field":"c","type":"nominal"}}},
  {"data":{"name":"erp"},"transform":[{"filter":"datum.p==='OR' && datum.c==='Invalid'"}],"mark":{"type":"line","strokeWidth":4},"encoding":{
   "x":{"field":"t","type":"quantitative","scale":{"domain":[-200,800],"nice":false,"zero":false},"axis":null},
   "y":{"field":"v","type":"quantitative","scale":{"domain":[-4,7],"nice":false,"zero":false},"axis":null},
   "color":{"field":"c","type":"nominal"}}},
  {"data":{"name":"ann"},"transform":[{"filter":"datum.p==='OR'"}],"mark":{"type":"rule","color":"#000000","strokeWidth":3},"encoding":{
   "x":{"field":"t","type":"quantitative","scale":{"domain":[-200,800],"nice":false,"zero":false},"axis":{"orient":"top","values":[-200,0,200,400,600,800],"labels":false,"grid":false,"domain":false,"title":null}},
   "y":{"field":"v","type":"quantitative","scale":{"domain":[-4,7],"nice":false,"zero":false},"axis":{"orient":"right","values":[-4,-2,0,2,4,6],"labels":false,"grid":false,"domain":false,"title":null}},
   "x2":{"field":"t2"},"y2":{"field":"v2"}}},
  {"data":{"name":"ann"},"transform":[{"filter":"datum.p==='OR'"}],"mark":{"type":"point","shape":"triangle-right","filled":true,"size":160,"angle":-17,"color":"#000000","opacity":1},"encoding":{"x":{"field":"t2","type":"quantitative","axis":null},"y":{"field":"v2","type":"quantitative","axis":null}}},
  {"data":{"name":"ann"},"transform":[{"filter":"datum.p==='OR'"}],"mark":{"type":"text","align":"left","baseline":"middle","font":"Lato","fontSize":57,"color":"#262626"},"encoding":{"x":{"field":"tx","type":"quantitative","axis":null},"y":{"field":"vy","type":"quantitative","axis":null},"text":{"field":"label"}}}
 ]}
]
}
